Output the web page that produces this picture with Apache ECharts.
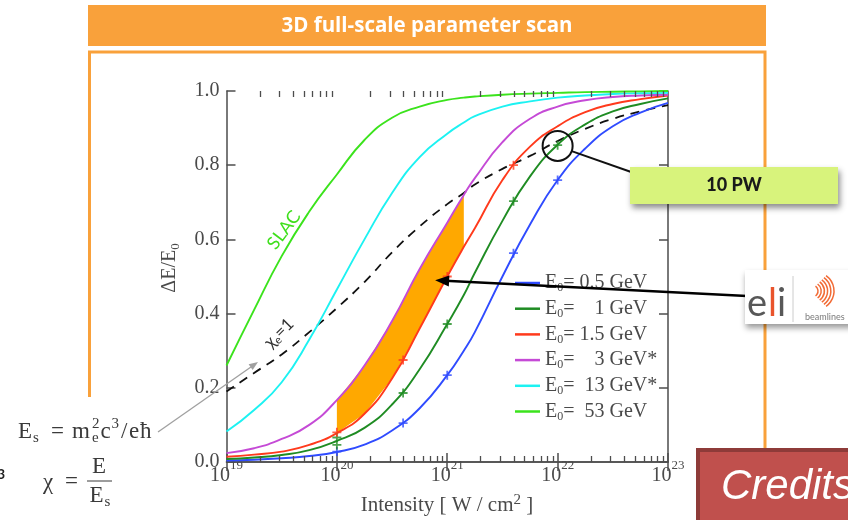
<!DOCTYPE html>
<html>
<head>
<meta charset="utf-8">
<script src="https://cdn.jsdelivr.net/npm/echarts@6/dist/echarts.min.js"></script>
<style>
html, body { margin: 0; padding: 0; background: #ffffff; }
#chart { width: 848px; height: 520px; }
</style>
</head>
<body>
<div id="chart"></div>
<script>
// Sample grid: log10 of laser intensity in W/cm^2
const exponents = [19, 19.25, 19.5, 19.75, 20, 20.25, 20.5, 20.75, 21, 21.15, 21.25, 21.5, 21.75, 22, 22.25, 22.5, 22.75, 23];

// Relative energy loss ΔE/E0 for each electron beam energy
const loss05GeV = [0.004, 0.006, 0.010, 0.016, 0.027, 0.047, 0.085, 0.145, 0.234, 0.300, 0.350, 0.500, 0.640, 0.760, 0.845, 0.905, 0.942, 0.968];
const loss1GeV  = [0.008, 0.012, 0.019, 0.032, 0.057, 0.092, 0.155, 0.250, 0.372, 0.450, 0.510, 0.650, 0.770, 0.855, 0.910, 0.945, 0.965, 0.980];
const loss15GeV = [0.014, 0.020, 0.028, 0.046, 0.078, 0.130, 0.225, 0.360, 0.500, 0.580, 0.630, 0.760, 0.850, 0.905, 0.943, 0.965, 0.978, 0.988];
const loss3GeV  = [0.024, 0.037, 0.062, 0.100, 0.167, 0.260, 0.380, 0.520, 0.645, 0.720, 0.765, 0.862, 0.925, 0.958, 0.975, 0.984, 0.988, 0.990];
const loss13GeV = [0.082, 0.140, 0.215, 0.330, 0.465, 0.600, 0.725, 0.822, 0.885, 0.915, 0.932, 0.958, 0.972, 0.982, 0.988, 0.992, 0.994, 0.995];
const loss53GeV = [0.260, 0.410, 0.555, 0.675, 0.775, 0.868, 0.928, 0.958, 0.976, 0.982, 0.985, 0.990, 0.993, 0.995, 0.997, 0.998, 0.999, 1.000];
// Boundary where the quantum parameter χe reaches 1
const chiOne    = [0.190, 0.240, 0.290, 0.350, 0.415, 0.485, 0.565, 0.635, 0.695, 0.725, 0.748, 0.790, 0.825, 0.865, 0.898, 0.925, 0.945, 0.962];

// 3D simulation points (log10 intensity, ΔE/E0)
const sim05GeV = [[20, 0.028], [20.6, 0.105], [21, 0.234], [21.6, 0.563], [22, 0.760]];
const sim1GeV  = [[20, 0.046], [20, 0.066], [20.6, 0.186], [21, 0.372], [21.6, 0.703], [22, 0.854]];
const sim15GeV = [[20, 0.080], [20.6, 0.275], [21, 0.500], [21.6, 0.800]];

// Shaded range between the 1.5 GeV and 3 GeV curves over reachable intensities
const bandFrom = 20, bandTo = 21.15;

const seriesNames = ['0.5', '1', '1.5', '3', '13', '53'];
const seriesStars = ['', '', '', '*', '*', ''];
const seriesColors = ['#2f4bff', '#1f8c23', '#ff3a1c', '#c54ad6', '#1cf2f2', '#3be31c'];
const seriesValues = [loss05GeV, loss1GeV, loss15GeV, loss3GeV, loss13GeV, loss53GeV];

const xTickExponents = [19, 20, 21, 22, 23];
const yTicks = [0, 0.2, 0.4, 0.6, 0.8, 1.0];

const SERIF = "'Liberation Serif', 'DejaVu Serif', serif";
const SANS = "Lato, 'Open Sans', sans-serif";
const AXIS_GREY = '#4d4d4d';
const TEXT_GREY = '#4a4a4a';
const FORMULA = '#3a3a3a';

const toPoints = vals => exponents.map((e, i) => [Math.pow(10, e), vals[i]]);
const simPoints = arr => arr.map(p => [Math.pow(10, p[0]), p[1]]);

const measureCtx = document.createElement('canvas').getContext('2d');
function textWidth(text, font) { measureCtx.font = font; return measureCtx.measureText(text).width; }

// Minor log ticks 2..9 inside every decade
const minorTickValues = [];
for (let d = xTickExponents[0]; d < xTickExponents[xTickExponents.length - 1]; d++) {
  for (let m = 2; m <= 9; m++) minorTickValues.push(m * Math.pow(10, d));
}

const LEGEND_SIZE = 20;
const legendFont = LEGEND_SIZE + 'px ' + SERIF;
const numFieldWidth = Math.max(...seriesNames.map(n => textWidth(n, legendFont)));

const chart = echarts.init(document.getElementById('chart'), null, { renderer: 'canvas' });

const bandIdx = exponents.map((e, i) => i).filter(i => exponents[i] >= bandFrom && exponents[i] <= bandTo);
const bandUpper = bandIdx.map(i => [Math.pow(10, exponents[i]), loss3GeV[i]]);
const bandLower = bandIdx.map(i => [Math.pow(10, exponents[i]), loss15GeV[i]]);

const plusPath = 'path://M4,0 L6,0 L6,4 L10,4 L10,6 L6,6 L6,10 L4,10 L4,6 L0,6 L0,4 L4,4 Z';

const series = [];
// orange band between the 1.5 GeV and 3 GeV curves
series.push({
  type: 'custom', name: 'band', silent: true, z: 1,
  data: [[bandUpper[0][0], bandUpper[0][1]]],
  encode: { x: 0, y: 1 },
  renderItem: (params, api) => {
    const pts = bandUpper.map(p => api.coord(p)).concat(bandLower.slice().reverse().map(p => api.coord(p)));
    return { type: 'polygon', shape: { points: pts }, style: { fill: '#ffa800' } };
  }
});
// χe = 1 dashed boundary
series.push({
  type: 'line', name: 'chi', silent: true, smooth: true, symbol: 'none', z: 3,
  lineStyle: { color: '#111', width: 1.8, type: [9, 7] },
  data: toPoints(chiOne)
});
seriesNames.forEach((n, k) => {
  series.push({
    type: 'line', name: n + ' GeV', smooth: true, symbol: 'none', z: 4,
    color: seriesColors[k],
    lineStyle: { color: seriesColors[k], width: 1.9 },
    data: toPoints(seriesValues[k])
  });
});
[[sim05GeV, 0], [sim1GeV, 1], [sim15GeV, 2]].forEach(([arr, k]) => {
  series.push({
    type: 'scatter', name: 'sim' + k, silent: true, z: 5,
    symbol: plusPath, symbolSize: 9,
    itemStyle: { color: seriesColors[k] },
    data: simPoints(arr)
  });
});

const legendRich = {
  e: { fontFamily: SERIF, fontSize: LEGEND_SIZE, color: TEXT_GREY, lineHeight: 22 },
  z: { fontFamily: SERIF, fontSize: 12, color: TEXT_GREY, lineHeight: 12, verticalAlign: 'bottom' },
  q: { fontFamily: SERIF, fontSize: LEGEND_SIZE, color: TEXT_GREY, lineHeight: 22 },
  n: { fontFamily: SERIF, fontSize: LEGEND_SIZE, color: TEXT_GREY, lineHeight: 22 },
  u: { fontFamily: SERIF, fontSize: LEGEND_SIZE, color: TEXT_GREY, lineHeight: 22 }
};
seriesNames.forEach((n, k) => {
  legendRich['p' + k] = { fontSize: LEGEND_SIZE, lineHeight: 22, width: Math.max(1, numFieldWidth - textWidth(n, legendFont) + 5) };
});

const axisLineStyle = { color: AXIS_GREY, width: 1.5 };
const option = {
  animation: false,
  backgroundColor: '#ffffff',
  grid: { left: 226.5, top: 91, width: 441.5, height: 371, containLabel: false },
  xAxis: [{
    type: 'log', logBase: 10, min: 1e19, max: 1e23, splitNumber: 4, position: 'bottom',
    axisLine: { lineStyle: axisLineStyle },
    axisTick: { inside: true, length: 9, lineStyle: axisLineStyle },
    splitLine: { show: false },
    axisLabel: {
      margin: -3,
      formatter: v => '{b|10}{s|' + Math.round(Math.log10(v)) + '}',
      rich: {
        b: { fontFamily: SERIF, fontSize: 20, color: TEXT_GREY, lineHeight: 27, verticalAlign: 'bottom' },
        s: { fontFamily: SERIF, fontSize: 13, color: TEXT_GREY, lineHeight: 13, verticalAlign: 'top' }
      }
    }
  }, {
    type: 'log', logBase: 10, min: 1e19, max: 1e23, splitNumber: 4, position: 'top',
    axisLine: { lineStyle: axisLineStyle },
    axisTick: { inside: true, length: 9, lineStyle: axisLineStyle },
    axisLabel: { show: false }, splitLine: { show: false }
  }],
  yAxis: [{
    type: 'value', min: 0, max: 1, interval: 0.2, position: 'left',
    axisLine: { show: true, lineStyle: axisLineStyle },
    axisTick: { show: true, inside: true, length: 9, lineStyle: axisLineStyle },
    splitLine: { show: false },
    axisLabel: { margin: 7, fontFamily: SERIF, fontSize: 20, color: TEXT_GREY, formatter: v => v.toFixed(1) }
  }, {
    type: 'value', min: 0, max: 1, interval: 0.2, position: 'right',
    axisLine: { show: true, lineStyle: axisLineStyle },
    axisTick: { show: true, inside: true, length: 9, lineStyle: axisLineStyle },
    splitLine: { show: false }, axisLabel: { show: false }
  }],
  legend: {
    data: seriesNames.map(n => n + ' GeV'),
    orient: 'vertical', left: 510, top: 268,
    icon: 'rect', itemWidth: 25, itemHeight: 2.5, itemGap: 4.7,
    selectedMode: false,
    formatter: name => {
      const k = seriesNames.indexOf(name.replace(' GeV', ''));
      return '{e|E}{z|0}{q|=}{p' + k + '| }{n|' + seriesNames[k] + '}{u| GeV' + seriesStars[k] + '}';
    },
    textStyle: { rich: legendRich, color: TEXT_GREY }
  },
  series: series
};
chart.setOption(option);

// ---- annotations around the plot ----
const ORANGE = '#f9a13b';
const toPx = (value, v) => chart.convertToPixel({ gridIndex: 0 }, [value, v]);
const px = (e, v) => toPx(Math.pow(10, e), v);

// minor ticks on the bottom and top log axes
const minorTickLines = [];
minorTickValues.forEach(v => {
  const b = toPx(v, 0), t = toPx(v, 1);
  const x = Math.round(b[0]) + 0.5;
  minorTickLines.push({ type: 'line', z: 30, silent: true, shape: { x1: x, y1: b[1], x2: x, y2: b[1] - 6 }, style: { stroke: AXIS_GREY, lineWidth: 1.3 } });
  minorTickLines.push({ type: 'line', z: 30, silent: true, shape: { x1: x, y1: t[1], x2: x, y2: t[1] + 6 }, style: { stroke: AXIS_GREY, lineWidth: 1.3 } });
});

const ringCenter = px(22, 0.852);
const arrowTip = px(20.89, 0.49);
const pwBox = { x: 630, y: 167, w: 208, h: 37 };
const eliBox = { x: 745, y: 270, w: 112, h: 54 };

function arrowHead(tip, from, len, half, color) {
  const dx = tip[0] - from[0], dy = tip[1] - from[1];
  const L = Math.hypot(dx, dy), ux = dx / L, uy = dy / L;
  const bx = tip[0] - ux * len, by = tip[1] - uy * len;
  return { type: 'polygon', shape: { points: [tip, [bx - uy * half, by + ux * half], [bx + uy * half, by - ux * half]] }, style: { fill: color } };
}
function towards(a, b, dist) {
  const dx = b[0] - a[0], dy = b[1] - a[1], L = Math.hypot(dx, dy);
  return [a[0] + dx / L * dist, a[1] + dy / L * dist];
}

const ringEdge = towards(ringCenter, [pwBox.x, pwBox.y + 6], 15);
const arrowStart = [eliBox.x + 2, 296];
const shaftEnd = towards(arrowTip, arrowStart, 10);
const greyStart = [158, 432], greyTip = [258, 362];
const greyEnd = towards(greyTip, greyStart, 6);

// concentric arcs of the beamline logo
const logoArcs = [];
for (let i = 0; i < 6; i++) {
  logoArcs.push({ type: 'arc', z: 21, shape: { cx: 812 + i * 0.6, cy: 291, r: 6 + i * 2.6, startAngle: -0.95, endAngle: 0.95 }, style: { stroke: '#f26b35', lineWidth: 1.5, fill: null } });
}

// formula pieces: [text, x, y, fontSize]
const formulaFont = s => s + 'px ' + SERIF;
const formulaPieces = [
  ['E', 18, 432, 23], ['s', 33, 438, 15], ['=', 51, 432, 23],
  ['m', 72, 432, 23], ['2', 92, 424, 15], ['e', 92, 438, 15],
  ['c', 100.5, 432, 23], ['3', 111.5, 424, 15], ['/', 121, 432, 23], ['e', 129, 432, 23], ['ħ', 140, 432, 23],
  ['χ', 43, 483, 23], ['=', 65, 482, 23], ['E', 92, 467, 23], ['E', 89.5, 496, 23], ['s', 104.5, 502, 15]
];
const formulaTexts = formulaPieces.map(([t, x, y, s]) => ({
  type: 'text', z: 5, style: { text: t, x: x, y: y, textAlign: 'left', textVerticalAlign: 'middle', fill: FORMULA, font: formulaFont(s) }
}));

const graphics = [
  // slide frame and title banner
  { type: 'rect', z: 0, shape: { x: 88, y: 5, width: 678, height: 41 }, style: { fill: ORANGE } },
  { type: 'text', z: 1, style: { text: '3D full-scale parameter scan', x: 427, y: 26, textAlign: 'center', textVerticalAlign: 'middle', fill: '#ffffff', font: 'bold 20.5px "Open Sans", Lato, sans-serif', shadowColor: 'rgba(0,0,0,0.45)', shadowBlur: 3, shadowOffsetY: 1 } },
  { type: 'polyline', z: 0, shape: { points: [[89.5, 397], [89.5, 52], [765, 52], [765, 452]] }, style: { stroke: ORANGE, lineWidth: 3, fill: null } },

  ...minorTickLines,

  // axis titles
  { type: 'text', z: 5, rotation: Math.PI / 2, x: 170, y: 268, style: { text: '{t|ΔE/E}{z|0}', textAlign: 'center', textVerticalAlign: 'middle', rich: { t: { fontFamily: SERIF, fontSize: 20, fill: TEXT_GREY, lineHeight: 24 }, z: { fontFamily: SERIF, fontSize: 13, fill: TEXT_GREY, lineHeight: 13, verticalAlign: 'bottom' } } } },
  { type: 'text', z: 5, style: { text: '{t|Intensity [ W / cm}{s|2}{t| ]}', x: 447, y: 505, textAlign: 'center', textVerticalAlign: 'middle', rich: { t: { fontFamily: SERIF, fontSize: 21, fill: TEXT_GREY, lineHeight: 24 }, s: { fontFamily: SERIF, fontSize: 15, fill: TEXT_GREY, lineHeight: 18, verticalAlign: 'top' } } } },

  // curve labels
  { type: 'text', z: 5, rotation: 0.93, x: 284, y: 230, style: { text: 'SLAC', textAlign: 'center', textVerticalAlign: 'middle', fill: '#3fdf1c', font: '18px ' + SANS } },
  { type: 'text', z: 5, rotation: 0.78, x: 279, y: 333, style: { text: '{t|χ}{z|e}{t|=1}', textAlign: 'center', textVerticalAlign: 'middle', rich: { t: { fontFamily: SANS, fontSize: 17, fill: '#333', lineHeight: 20 }, z: { fontFamily: SANS, fontSize: 11, fill: '#333', lineHeight: 11, verticalAlign: 'bottom' } } } },

  // 10 PW marker and callout
  { type: 'circle', z: 8, shape: { cx: ringCenter[0], cy: ringCenter[1], r: 15 }, style: { stroke: '#111', lineWidth: 2, fill: null } },
  { type: 'line', z: 8, shape: { x1: ringEdge[0], y1: ringEdge[1], x2: pwBox.x + 4, y2: pwBox.y + 6 }, style: { stroke: '#111', lineWidth: 2 } },
  { type: 'rect', z: 20, shape: { x: pwBox.x, y: pwBox.y, width: pwBox.w, height: pwBox.h }, style: { fill: '#d8f37c', shadowColor: 'rgba(0,0,0,0.45)', shadowBlur: 6, shadowOffsetX: 2, shadowOffsetY: 4 } },
  { type: 'text', z: 21, style: { text: '10 PW', x: pwBox.x + pwBox.w / 2, y: pwBox.y + pwBox.h / 2, textAlign: 'center', textVerticalAlign: 'middle', fill: '#1a1a1a', font: '900 18px ' + SANS } },

  // arrow from the facility logo into the band
  { type: 'line', z: 8, shape: { x1: arrowStart[0], y1: arrowStart[1], x2: shaftEnd[0], y2: shaftEnd[1] }, style: { stroke: '#000', lineWidth: 2.6 } },
  Object.assign(arrowHead(arrowTip, arrowStart, 14, 5.5, '#000'), { z: 8 }),

  // facility logo card
  { type: 'rect', z: 20, shape: { x: eliBox.x, y: eliBox.y, width: eliBox.w, height: eliBox.h }, style: { fill: '#ffffff', shadowColor: 'rgba(0,0,0,0.4)', shadowBlur: 6, shadowOffsetX: 1, shadowOffsetY: 4 } },
  { type: 'text', z: 21, style: { text: 'e', x: 747, y: 304, textAlign: 'left', textVerticalAlign: 'middle', fill: '#585858', font: '38px ' + SANS } },
  { type: 'text', z: 21, style: { text: 'l', x: 768, y: 304, textAlign: 'left', textVerticalAlign: 'middle', fill: '#e9542c', font: '38px ' + SANS } },
  { type: 'text', z: 21, style: { text: 'i', x: 777, y: 304, textAlign: 'left', textVerticalAlign: 'middle', fill: '#585858', font: '38px ' + SANS } },
  { type: 'line', z: 21, shape: { x1: 793, y1: 276, x2: 793, y2: 322 }, style: { stroke: '#cccccc', lineWidth: 1 } },
  ...logoArcs,
  { type: 'text', z: 21, style: { text: 'beamlines', x: 805, y: 317, textAlign: 'left', textVerticalAlign: 'middle', fill: '#7a7a7a', font: '9px ' + SANS } },

  // credits badge
  { type: 'rect', z: 20, shape: { x: 698, y: 450, width: 160, height: 80 }, style: { fill: '#c0504d', stroke: '#8e3b39', lineWidth: 4 } },
  { type: 'text', z: 21, style: { text: 'Credits', x: 721, y: 487, textAlign: 'left', textVerticalAlign: 'middle', fill: '#ffffff', font: 'italic 42px "Liberation Sans", Arial, sans-serif' } },

  // formulas for the critical field and the quantum parameter
  ...formulaTexts,
  { type: 'line', z: 5, shape: { x1: 87, y1: 481, x2: 112, y2: 481 }, style: { stroke: FORMULA, lineWidth: 1 } },
  { type: 'line', z: 5, shape: { x1: greyStart[0], y1: greyStart[1], x2: greyEnd[0], y2: greyEnd[1] }, style: { stroke: '#a0a0a0', lineWidth: 1.3 } },
  Object.assign(arrowHead(greyTip, greyStart, 9, 3.5, '#a0a0a0'), { z: 5 }),
  { type: 'text', z: 5, style: { text: '3', x: -3, y: 474, textAlign: 'left', textVerticalAlign: 'middle', fill: '#222', font: 'bold 14px ' + SANS } }
];

chart.setOption({ graphic: { elements: graphics } });
</script>
</body>
</html>
